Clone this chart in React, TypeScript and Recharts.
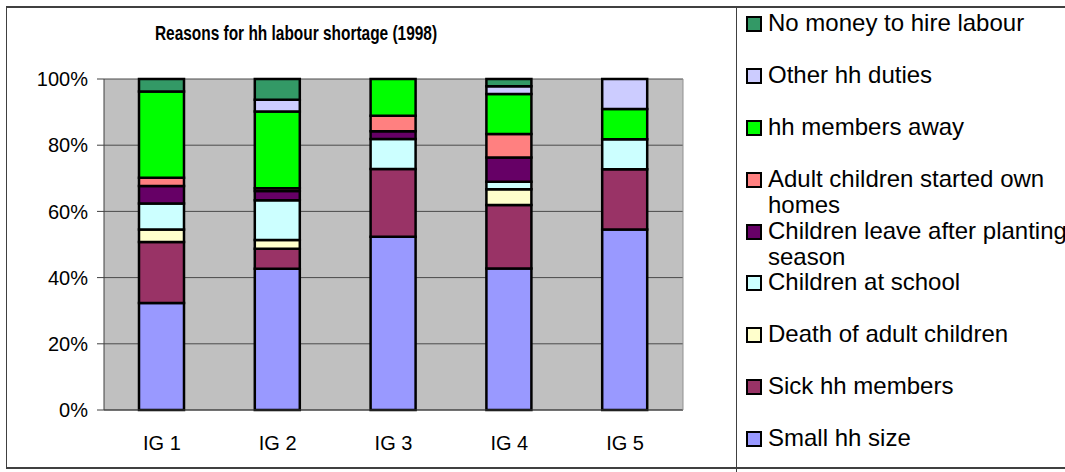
import { BarChart, Bar, XAxis, YAxis, CartesianGrid, Legend } from 'recharts';

const groups = ['IG 1', 'IG 2', 'IG 3', 'IG 4', 'IG 5'];

// shares per income group, in %, bottom of the stack first
const smallHhSize = [32.3, 42.6, 52.3, 42.7, 54.5];
const sickHhMembers = [18.4, 6.1, 20.4, 19.2, 18.2];
const deathOfAdultChildren = [3.8, 2.6, 0, 4.7, 0];
const childrenAtSchool = [7.8, 12.0, 9.1, 2.3, 9.1];
const childrenLeave = [5.3, 2.8, 2.3, 7.3, 0];
const adultChildrenHomes = [2.5, 0.8, 4.7, 7.1, 0];
const membersAway = [26.0, 23.2, 11.1, 12.1, 9.1];
const otherDuties = [0, 3.5, 0, 2.3, 9.1];
const noMoney = [3.8, 6.3, 0, 2.2, 0];

const yTicks = [0, 0.2, 0.4, 0.6, 0.8, 1];
const boundaryTicks = [0, 1, 2, 3, 4, 5];

const series = [
  { key: 'small', name: 'Small hh size', color: '#9999FF', values: smallHhSize },
  { key: 'sick', name: 'Sick hh members', color: '#993366', values: sickHhMembers },
  { key: 'death', name: 'Death of adult children', color: '#FFFFCC', values: deathOfAdultChildren },
  { key: 'school', name: 'Children at school', color: '#CCFFFF', values: childrenAtSchool },
  { key: 'leave', name: 'Children leave after planting season', color: '#660066', values: childrenLeave },
  { key: 'homes', name: 'Adult children started own homes', color: '#FF8080', values: adultChildrenHomes },
  { key: 'away', name: 'hh members away', color: '#00FF00', values: membersAway },
  { key: 'other', name: 'Other hh duties', color: '#CCCCFF', values: otherDuties },
  { key: 'money', name: 'No money to hire labour', color: '#339966', values: noMoney },
];

const data = groups.map((g, i) => {
  const row: Record<string, string | number> = { group: g };
  series.forEach(s => { row[s.key] = s.values[i]; });
  return row;
});

const font = '"Liberation Sans", Arial, sans-serif';
const line = '#404040';

function LegendBox() {
  return (
    <div style={{ fontFamily: font, fontSize: 24, lineHeight: '26px', color: '#000' }}>
      {[...series].reverse().map(s => (
        <div key={s.key} style={{ height: 51.9, display: 'flex', alignItems: 'flex-start' }}>
          <div style={{
            width: 12, height: 12, marginTop: 6, marginRight: 6, flex: 'none',
            background: s.color, border: '2px solid #000',
          }} />
          <div style={{ width: 320 }}>{s.name}</div>
        </div>
      ))}
    </div>
  );
}

export default function App() {
  return (
    <div style={{ position: 'fixed', left: 0, top: 0, width: 1065, height: 472, overflow: 'hidden', background: '#fff', fontFamily: font }}>
      <div style={{
        position: 'absolute', left: 6, top: 6, width: 1070, height: 459,
        borderTop: `2px solid ${line}`, borderBottom: `2px solid ${line}`, borderLeft: `1px solid ${line}`,
      }} />
      <div style={{ position: 'absolute', left: 736, top: 7, width: 1, height: 470, background: line }} />
      <div style={{
        position: 'absolute', left: -4, top: 22, width: 600, textAlign: 'center',
        fontSize: 21, lineHeight: '21px', fontWeight: 'bold', transform: 'scaleX(0.735)',
      }}>
        Reasons for hh labour shortage (1998)
      </div>
      <div style={{ position: 'absolute', left: 0, top: 0 }}>
        <BarChart
          width={1065}
          height={472}
          data={data}
          stackOffset="expand"
          barSize={45}
          margin={{ top: 79, right: 381, bottom: 0, left: 0 }}
        >
          <CartesianGrid vertical={false} fill="#C0C0C0" stroke="#4a4a4a" />
          <XAxis
            xAxisId="b"
            type="number"
            domain={[0, 5]}
            allowDataOverflow
            ticks={boundaryTicks}
            tickFormatter={() => ''}
            tickSize={6}
            axisLine={false}
            tickLine={{ stroke: line }}
            height={0}
          />
          <XAxis
            dataKey="group"
            height={62}
            tickLine={false}
            tickSize={8}
            tickMargin={18}
            axisLine={{ stroke: line }}
            tick={{ fill: '#000', fontSize: 20, fontFamily: font }}
          />
          <YAxis
            width={104}
            domain={[0, 1]}
            ticks={yTicks}
            tickFormatter={(v: number) => `${Math.round(v * 100)}%`}
            tickSize={7}
            tickMargin={9}
            axisLine={{ stroke: line }}
            tickLine={{ stroke: line }}
            tick={{ fill: '#000', fontSize: 20, fontFamily: font }}
          />
          <YAxis
            yAxisId="r"
            orientation="right"
            width={1}
            domain={[0, 1]}
            tick={false}
            tickLine={false}
            axisLine={{ stroke: '#909090' }}
          />
          <Legend
            layout="vertical"
            align="center"
            verticalAlign="middle"
            content={() => <LegendBox />}
            wrapperStyle={{ left: 746, top: 10, width: 330 }}
          />
          {series.map(s => (
            <Bar
              key={s.key}
              dataKey={s.key}
              name={s.name}
              stackId="a"
              fill={s.color}
              stroke="#000"
              strokeWidth={2.5}
              isAnimationActive={false}
            />
          ))}
        </BarChart>
      </div>
    </div>
  );
}
